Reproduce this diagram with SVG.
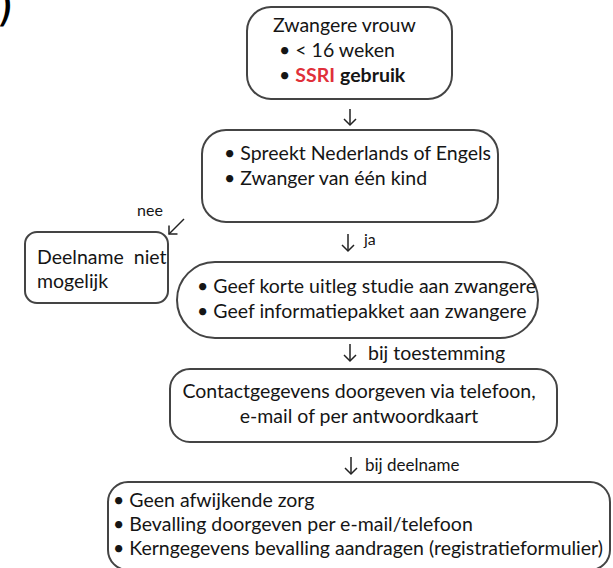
<svg xmlns="http://www.w3.org/2000/svg" width="613" height="568" viewBox="0 0 613 568">
<defs>
<marker id="v" viewBox="0 0 14 14" refX="12" refY="7" markerWidth="14" markerHeight="14" markerUnits="userSpaceOnUse" orient="auto">
<path d="M6,1 L12,7 L6,13" fill="none" stroke="#222" stroke-width="1.5"/>
</marker>
</defs>
<style>
.box{fill:#fff;stroke:#444;stroke-width:2}
.t{font-family:Lato,"Open Sans",sans-serif;font-size:19.5px;fill:#151515}
.s{font-family:Lato,"Open Sans",sans-serif;font-size:16px;fill:#151515}
.c{fill:none;stroke:#222;stroke-width:1.5}
</style>
<rect width="613" height="568" fill="#fff"/>
<text x="-4" y="20" style="font-family:'DejaVu Sans',sans-serif;font-size:46px;fill:#000">)</text>
<g id="n1">
<rect class="box" x="247" y="7" width="205" height="92" rx="24"/>
<text class="t" x="273" y="32">Zwangere vrouw</text>
<text class="t" x="279" y="57">• &lt; 16 weken</text>
<text class="t" x="279" y="82">• <tspan font-weight="bold" fill="#e0303a">SSRI</tspan> <tspan font-weight="bold">gebruik</tspan></text>
</g>
<g id="n2">
<rect class="box" x="202" y="130" width="296" height="92" rx="24"/>
<text class="t" x="224" y="160">• Spreekt Nederlands of Engels</text>
<text class="t" x="224" y="185">• Zwanger van één kind</text>
</g>
<g id="n3">
<rect class="box" x="25" y="232" width="143" height="71" rx="12"/>
<text class="t" x="37" y="264" xml:space="preserve">Deelname  niet</text>
<text class="t" x="37" y="288">mogelijk</text>
</g>
<g id="n4">
<rect class="box" x="177" y="262" width="361" height="76" rx="38"/>
<text class="t" x="197" y="293">• Geef korte uitleg studie aan zwangere</text>
<text class="t" x="197" y="318">• Geef informatiepakket aan zwangere</text>
</g>
<g id="n5">
<rect class="box" x="170" y="369" width="387" height="73" rx="20"/>
<text class="t" x="359" y="398" text-anchor="middle">Contactgegevens doorgeven via telefoon,</text>
<text class="t" x="359" y="423" text-anchor="middle">e-mail of per antwoordkaart</text>
</g>
<g id="n6">
<rect class="box" x="108" y="482" width="502" height="88" rx="20"/>
<text class="t" x="113" y="507">• Geen afwijkende zorg</text>
<text class="t" x="113" y="531">• Bevalling doorgeven per e-mail/telefoon</text>
<text class="t" x="113" y="555">• Kerngegevens bevalling aandragen (registratieformulier)</text>
</g>
<g id="connectors">
<path class="c" d="M350,109 V125" marker-end="url(#v)"/>
<path class="c" d="M184,219 L169,234" marker-end="url(#v)"/>
<text class="s" x="137" y="216">nee</text>
<path class="c" d="M348,234 V251" marker-end="url(#v)"/>
<text class="s" x="364" y="245">ja</text>
<path class="c" d="M350,344 V361" marker-end="url(#v)"/>
<text class="t" x="368" y="360">bij toestemming</text>
<path class="c" d="M351,457 V474" marker-end="url(#v)"/>
<text class="s" x="365" y="471" style="font-size:17px">bij deelname</text>
</g>
</svg>
